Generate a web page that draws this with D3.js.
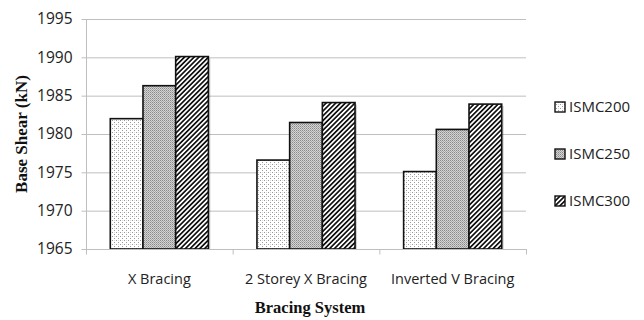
<!DOCTYPE html>
<html><head><meta charset="utf-8">
<script src="https://cdn.jsdelivr.net/npm/d3@7"></script>
<style>body{margin:0;background:#fff}svg{display:block}</style>
</head><body>
<svg id="c" width="644" height="320"></svg>
<script>
const categories = ["X Bracing", "2 Storey X Bracing", "Inverted V Bracing"];
const seriesNames = ["ISMC200", "ISMC250", "ISMC300"];
const ismc200 = [1982.0, 1976.6, 1975.1];
const ismc250 = [1986.3, 1981.5, 1980.6];
const ismc300 = [1990.1, 1984.1, 1983.9];
const yTicks = [1965, 1970, 1975, 1980, 1985, 1990, 1995];
const yTitle = "Base Shear (kN)";
const xTitle = "Bracing System";

(function(){
const seriesValues = [ismc200, ismc250, ismc300];
const svg = d3.select("#c");
const defs = svg.append("defs");

// patterns
const p1 = defs.append("pattern").attr("id","pat0").attr("patternUnits","userSpaceOnUse").attr("width",4).attr("height",4);
p1.append("rect").attr("width",4).attr("height",4).attr("fill","#fff");
p1.append("rect").attr("x",0).attr("y",0).attr("width",1).attr("height",1).attr("fill","#9a9a9a");
p1.append("rect").attr("x",2).attr("y",2).attr("width",1).attr("height",1).attr("fill","#9a9a9a");
p1.append("rect").attr("x",2).attr("y",0).attr("width",1).attr("height",1).attr("fill","#dcdcdc");

const p2 = defs.append("pattern").attr("id","pat1").attr("patternUnits","userSpaceOnUse").attr("width",2).attr("height",2);
p2.append("rect").attr("width",2).attr("height",2).attr("fill","#d4d4d4");
p2.append("rect").attr("x",0).attr("y",0).attr("width",1).attr("height",1).attr("fill","#8a8a8a");
p2.append("rect").attr("x",1).attr("y",1).attr("width",1).attr("height",1).attr("fill","#a8a8a8");

const p3 = defs.append("pattern").attr("id","pat2").attr("patternUnits","userSpaceOnUse").attr("width",3.4).attr("height",3.4).attr("patternTransform","rotate(45)");
p3.append("rect").attr("width",3.4).attr("height",3.4).attr("fill","#fff");
p3.append("rect").attr("width",1.7).attr("height",3.4).attr("fill","#111");

const pLeft = 86, pRight = 526, pTop = 19, pBottom = 249;
const x = d3.scaleBand().domain(categories).range([pLeft, pRight]).padding(0);
const xs = d3.scaleBand().domain(seriesNames).range([0, x.bandwidth()]).paddingInner(0).paddingOuter(0.743);
const y = d3.scaleLinear().domain([1965, 1995]).range([pBottom, pTop]);

// gridlines
svg.append("g").selectAll("line").data(yTicks.slice(1)).join("line")
  .attr("x1", pLeft).attr("x2", pRight).attr("y1", d => y(d)+0.5).attr("y2", d => y(d)+0.5)
  .attr("stroke", "#bfbfbf").attr("stroke-width", 1);

// y axis
const ya = svg.append("g").attr("transform", `translate(${pLeft+0.5},0)`)
  .call(d3.axisLeft(y).tickValues(yTicks).tickSize(5).tickPadding(9).tickFormat(d3.format("d")));
ya.select(".domain").attr("stroke", "#bfbfbf").attr("d", `M0,${pTop}V${pBottom+5}`);
ya.selectAll(".tick line").attr("stroke", "#bfbfbf");
ya.selectAll(".tick text").attr("font-family", "'Open Sans'").attr("font-size", "15.5px").attr("fill", "#222");

// bars
const gBars = svg.append("g");
seriesNames.forEach((s, si) => {
  const vals = seriesValues[si];
  gBars.selectAll(".sh"+si).data(categories).join("rect").attr("class","sh"+si)
    .attr("x", (c) => x(c) + xs(s) + 2).attr("y", (c, i) => y(vals[i]) + 2)
    .attr("width", xs.bandwidth()).attr("height", (c, i) => pBottom - y(vals[i]) - 2)
    .attr("fill", "#000").attr("opacity", 0.18);
});
seriesNames.forEach((s, si) => {
  const vals = seriesValues[si];
  gBars.selectAll(".b"+si).data(categories).join("rect").attr("class","b"+si)
    .attr("x", c => x(c) + xs(s)).attr("y", (c, i) => y(vals[i]))
    .attr("width", xs.bandwidth()).attr("height", (c, i) => pBottom - y(vals[i]))
    .attr("fill", `url(#pat${si})`).attr("stroke", "#111").attr("stroke-width", 1.6);
});

// x axis
const xa = svg.append("g").attr("transform", `translate(0,${pBottom+0.5})`);
xa.append("line").attr("x1", pLeft).attr("x2", pRight+1).attr("stroke", "#bfbfbf");
xa.selectAll(".xt").data([...categories.map(c => x(c)), pRight]).join("line").attr("class","xt")
  .attr("x1", d => d+0.5).attr("x2", d => d+0.5).attr("y1", 0).attr("y2", 5).attr("stroke", "#bfbfbf");
xa.selectAll(".xl").data(categories).join("text").attr("class","xl")
  .attr("x", c => x(c) + x.bandwidth()/2).attr("y", 34)
  .attr("text-anchor", "middle").attr("font-family", "'Open Sans'").attr("font-size", "14.5px").attr("fill", "#222")
  .text(d => d);

// titles
svg.append("text").attr("x", 310).attr("y", 313).attr("text-anchor", "middle")
  .attr("font-family", "'Liberation Serif'").attr("font-weight", "bold").attr("font-size", "16.5px").attr("fill", "#111")
  .text(xTitle);
svg.append("text").attr("transform", `translate(27,${(pTop+pBottom)/2}) rotate(-90)`).attr("text-anchor", "middle")
  .attr("font-family", "'Liberation Serif'").attr("font-weight", "bold").attr("font-size", "17px").attr("fill", "#111")
  .text(yTitle);

// legend
const legY = [107, 154, 201];
const lg = svg.append("g");
seriesNames.forEach((s, i) => {
  lg.append("rect").attr("x", 555).attr("y", legY[i]-5).attr("width", 10).attr("height", 10)
    .attr("fill", `url(#pat${i})`).attr("stroke", "#111").attr("stroke-width", 1.4);
  lg.append("text").attr("x", 569).attr("y", legY[i]).attr("dy", "0.35em")
    .attr("font-family", "'Open Sans'").attr("font-size", "15px").attr("fill", "#222").text(s);
});
})();
</script>
</body></html>
